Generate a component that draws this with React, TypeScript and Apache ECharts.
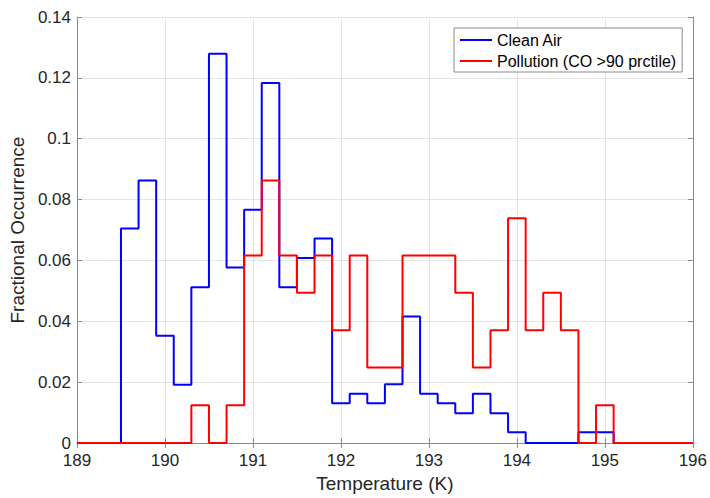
import React, { useEffect, useRef } from "react";
import * as echarts from "echarts";

// Histogram bins of width 0.2 K; first bin starts at 189.1 K (34 bins up to 195.9 K)
const binStart = 189.1;
const binWidth = 0.2;
const xMin = 189;
const xMax = 196;
const yMin = 0;
const yMax = 0.14;

const cleanAir = [
  0, 0, 0.0705, 0.0863, 0.0353, 0.0192, 0.0512, 0.1279, 0.0577, 0.0767,
  0.1183, 0.0512, 0.0608, 0.0672, 0.0131, 0.0162, 0.0131, 0.0193, 0.0416, 0.0162,
  0.0131, 0.0098, 0.0162, 0.0098, 0.0036, 0, 0, 0, 0.0036, 0.0036,
  0, 0, 0, 0,
];
const pollution = [
  0, 0, 0, 0, 0, 0, 0.0124, 0, 0.0124, 0.0616,
  0.0863, 0.0616, 0.0494, 0.0616, 0.0371, 0.0616, 0.0248, 0.0248, 0.0616, 0.0616,
  0.0616, 0.0494, 0.0248, 0.0371, 0.0739, 0.0371, 0.0494, 0.0371, 0, 0.0124,
  0, 0, 0, 0,
];

function stairs(values: number[]) {
  const pts: [number, number][] = [[xMin, 0]];
  values.forEach((v, i) => {
    pts.push([+(binStart + i * binWidth).toFixed(3), v]);
  });
  pts.push([+(binStart + values.length * binWidth).toFixed(3), 0]);
  pts.push([xMax, 0]);
  return pts;
}

const FONT = "Liberation Sans, Arial, Helvetica, sans-serif";
const TXT = "#262626";
const AX = "#8a8a8a";
const GRID = "#e4e4e4";

export default function App() {
  const ref = useRef<HTMLDivElement>(null);
  useEffect(() => {
    if (!ref.current) return;
    const chart = echarts.init(ref.current, undefined, { renderer: "svg" });
    const axisCommon = {
      axisLine: { show: true, lineStyle: { color: AX, width: 1 } },
      axisTick: { show: true, inside: true, length: 5, lineStyle: { color: AX } },
    };
    chart.setOption({
      animation: false,
      backgroundColor: "#ffffff",
      textStyle: { fontFamily: FONT },
      grid: { left: 75, right: 17, top: 17, bottom: 50, containLabel: false },
      legend: {
        left: 454,
        top: 28,
        orient: "vertical",
        backgroundColor: "#ffffff",
        borderColor: AX,
        borderWidth: 1,
        borderRadius: 0,
        padding: [4, 6, 3, 6],
        itemGap: 5,
        itemWidth: 32,
        itemHeight: 2,
        icon: "rect",
        textStyle: { fontFamily: FONT, fontSize: 16, color: "#000" },
        data: ["Clean Air", "Pollution (CO >90 prctile)"],
      },
      xAxis: [
        {
          type: "value",
          min: xMin,
          max: xMax,
          interval: 1,
          ...axisCommon,
          splitLine: { show: true, lineStyle: { color: GRID, width: 1 } },
          axisLabel: { fontFamily: FONT, fontSize: 17, color: TXT, margin: 9 },
          name: "Temperature (K)",
          nameLocation: "middle",
          nameGap: 27,
          nameTextStyle: { fontFamily: FONT, fontSize: 19, color: TXT },
        },
        {
          type: "value",
          position: "top",
          min: xMin,
          max: xMax,
          interval: 1,
          ...axisCommon,
          splitLine: { show: false },
          axisLabel: { show: false },
        },
      ],
      yAxis: [
        {
          type: "value",
          min: yMin,
          max: yMax,
          interval: 0.02,
          ...axisCommon,
          splitLine: { show: true, lineStyle: { color: GRID, width: 1 } },
          axisLabel: { fontFamily: FONT, fontSize: 17, color: TXT, margin: 6 },
          name: "Fractional Occurrence",
          nameLocation: "middle",
          nameGap: 46,
          nameTextStyle: { fontFamily: FONT, fontSize: 19, color: TXT },
        },
        {
          type: "value",
          position: "right",
          min: yMin,
          max: yMax,
          interval: 0.02,
          ...axisCommon,
          splitLine: { show: false },
          axisLabel: { show: false },
        },
      ],
      series: [
        {
          name: "Clean Air",
          type: "line",
          step: "end",
          showSymbol: false,
          symbol: "none",
          color: "#0000ff",
          lineStyle: { color: "#0000ff", width: 2 },
          data: stairs(cleanAir),
        },
        {
          name: "Pollution (CO >90 prctile)",
          type: "line",
          step: "end",
          showSymbol: false,
          symbol: "none",
          color: "#ff0000",
          lineStyle: { color: "#ff0000", width: 2 },
          data: stairs(pollution),
        },
      ],
    });
    return () => chart.dispose();
  }, []);
  return <div ref={ref} style={{ width: 710, height: 498, position: "absolute", left: 0, top: 0 }} />;
}
